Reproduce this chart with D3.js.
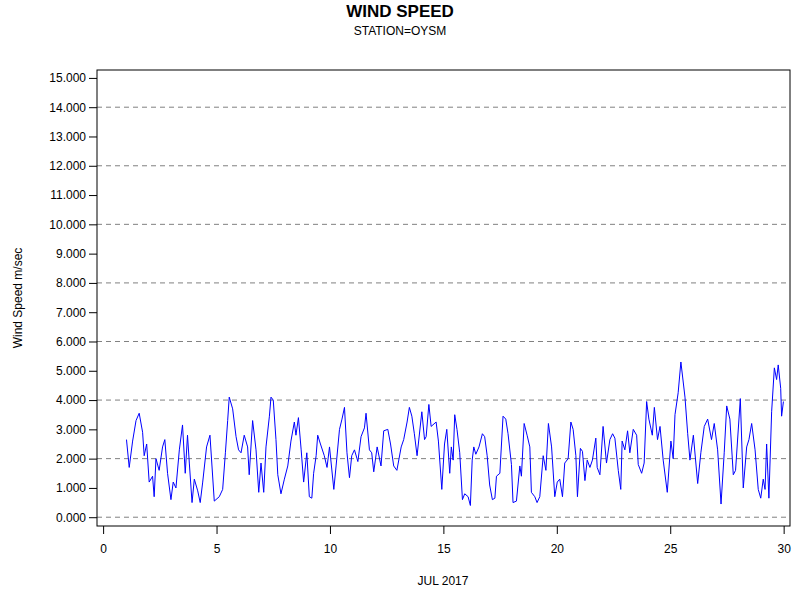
<!DOCTYPE html>
<html>
<head>
<meta charset="utf-8">
<script src="https://cdn.jsdelivr.net/npm/d3@7"></script>
<style>
  body { margin: 0; background: #fff; }
  text { font-family: "Liberation Sans", Arial, sans-serif; }
</style>
</head>
<body>
<script>
const WIDTH = 800;
const HEIGHT = 600;
const PLOT = { left: 97, right: 790, top: 70, bottom: 526 };

// day of July 2017 (fractional) and wind speed in m/sec
const days = [
  1.03, 1.15, 1.30, 1.45, 1.59, 1.74, 1.81, 1.92, 2.03, 2.18, 2.25, 2.33, 2.47, 2.62, 2.72, 2.84,
  2.99, 3.09, 3.21, 3.36, 3.50, 3.62, 3.72, 3.80, 3.92, 4.02, 4.17, 4.28, 4.39, 4.56, 4.71, 4.90,
  5.12, 5.27, 5.39, 5.49, 5.56, 5.71, 5.86, 5.97, 6.08, 6.22, 6.37, 6.44, 6.59, 6.74, 6.86, 6.96,
  7.08, 7.18, 7.33, 7.40, 7.50, 7.62, 7.70, 7.84,
  7.99, 8.14, 8.28, 8.43, 8.50, 8.61, 8.73, 8.84, 8.98, 9.09, 9.20, 9.28, 9.39, 9.46, 9.58, 9.75,
  9.87, 9.98, 10.17, 10.27, 10.42, 10.53, 10.64, 10.75, 10.86, 10.96, 11.08, 11.23, 11.37, 11.52,
  11.59, 11.74, 11.84, 11.93, 12.08, 12.25, 12.37, 12.55, 12.67, 12.81, 12.95, 13.14, 13.25, 13.40,
  13.50, 13.61, 13.72, 13.84, 14.05, 14.17, 14.24, 14.36, 14.46, 14.68, 14.78, 14.93, 15.05, 15.15,
  15.28, 15.35, 15.43, 15.50, 15.60, 15.72, 15.84, 15.94, 16.09, 16.19, 16.27, 16.34, 16.43, 16.57,
  16.72, 16.82, 16.93, 17.04, 17.16, 17.27, 17.34, 17.49, 17.63, 17.75, 17.85, 18.00, 18.07, 18.22,
  18.37, 18.44, 18.56, 18.69, 18.81, 18.88, 19.03, 19.13, 19.25, 19.40, 19.52, 19.63, 19.77, 19.91,
  20.02, 20.13, 20.25, 20.35, 20.50, 20.62, 20.72, 20.84, 20.91, 21.04, 21.13, 21.24, 21.34, 21.46,
  21.57, 21.72, 21.78, 21.90, 22.04, 22.19, 22.34, 22.46,
  22.56, 22.71, 22.82, 22.88, 23.00, 23.12, 23.22, 23.37, 23.52, 23.59, 23.74, 23.85, 23.96, 24.06,
  24.21, 24.30, 24.44, 24.55, 24.69, 24.87, 25.03, 25.13, 25.21, 25.35, 25.47, 25.65, 25.77, 25.87,
  26.02, 26.21, 26.35, 26.50, 26.65, 26.82, 26.94, 27.09, 27.24, 27.38, 27.49, 27.63, 27.78, 27.88,
  28.09, 28.22, 28.37, 28.47, 28.59, 28.74, 28.88, 28.99, 29.10, 29.18, 29.25, 29.35, 29.47, 29.59,
  29.69, 29.76, 29.87, 29.91, 29.99
];
const speeds = [
  2.65, 1.7, 2.6, 3.3, 3.55, 2.9, 2.1, 2.5, 1.2, 1.4, 0.7, 2.0, 1.6, 2.4, 2.65, 1.5,
  0.6, 1.2, 1.0, 2.3, 3.15, 1.5, 2.8, 1.85, 0.5, 1.3, 0.9, 0.5, 1.2, 2.4, 2.8, 0.55,
  0.7, 0.95, 2.2, 3.3, 4.1, 3.7, 2.75, 2.3, 2.2, 2.8, 2.4, 1.45, 3.3, 2.3, 0.85, 1.85,
  0.85, 2.4, 3.45, 4.1, 4.0, 2.65, 1.45, 0.8,
  1.3, 1.75, 2.6, 3.25, 2.8, 3.4, 2.3, 1.2, 2.2, 0.7, 0.65, 1.5, 2.1, 2.8, 2.5, 2.1,
  1.7, 2.4, 0.95, 1.75, 3.0, 3.35, 3.75, 2.2, 1.35, 2.1, 2.3, 1.9, 2.75, 3.05,
  3.55, 2.3, 2.2, 1.55, 2.4, 1.75, 2.95, 3.0, 2.5, 1.75, 1.6, 2.4, 2.65, 3.25,
  3.75, 3.45, 2.85, 2.1, 3.6, 2.65, 2.75, 3.85, 3.1, 3.25, 2.6, 0.95, 2.5, 3.0,
  1.5, 2.4, 1.95, 3.5, 3.0, 2.2, 0.6, 0.8, 0.7, 0.4, 1.95, 2.4, 2.15, 2.4,
  2.85, 2.75, 2.1, 1.1, 0.6, 0.65, 1.4, 1.5, 3.45, 3.35, 2.85, 1.8, 0.5, 0.55,
  1.75, 1.4, 3.2, 2.8, 2.4, 0.85, 0.7, 0.5, 0.7, 2.1, 1.6, 3.2, 2.4, 0.7,
  1.2, 1.3, 0.7, 1.85, 2.0, 3.25, 3.0, 2.1, 0.7, 2.35, 2.25, 1.25, 1.95, 1.7,
  1.95, 2.7, 1.7, 1.45, 3.1, 1.85, 2.65, 2.85,
  2.7, 1.6, 0.95, 2.6, 2.3, 2.95, 2.2, 3.0, 2.8, 1.8, 1.5, 1.85, 3.95, 3.35,
  2.8, 3.75, 2.65, 3.1, 1.95, 0.85, 2.6, 2.0, 3.5, 4.25, 5.3, 4.1, 2.85, 1.95,
  2.8, 1.15, 2.2, 3.1, 3.35, 2.65, 3.2, 2.3, 0.45, 2.2, 3.8, 3.35, 1.45, 1.6,
  4.05, 1.0, 2.4, 2.65, 3.2, 2.3, 0.95, 0.65, 1.3, 0.95, 2.5, 0.65, 3.6, 5.1,
  4.7, 5.2, 4.4, 3.45, 3.95
];
const yTicks = d3.range(0, 15.001, 1);
const gridValues = d3.range(0, 14.001, 2);
const xTicks = [0, 5, 10, 15, 20, 25, 30];

const svg = d3.select("body").append("svg")
  .attr("width", WIDTH)
  .attr("height", HEIGHT);

const x = d3.scaleLinear().domain([-0.27, 30.28]).range([PLOT.left, PLOT.right]);
const y = d3.scaleLinear().domain([-0.3, 15.27]).range([PLOT.bottom, PLOT.top]);

svg.append("text").attr("x", 400).attr("y", 17).attr("text-anchor", "middle")
  .style("font-size", "17px").style("font-weight", "bold").text("WIND SPEED");
svg.append("text").attr("x", 400).attr("y", 35).attr("text-anchor", "middle")
  .style("font-size", "12px").text("STATION=OYSM");

// dashed grid
svg.append("g").selectAll("line").data(gridValues).enter().append("line")
  .attr("x1", PLOT.left).attr("x2", PLOT.right)
  .attr("y1", d => y(d)).attr("y2", d => y(d))
  .attr("stroke", "#808080").attr("stroke-dasharray", "5,4");

// frame
svg.append("rect").attr("x", PLOT.left).attr("y", PLOT.top)
  .attr("width", PLOT.right - PLOT.left).attr("height", PLOT.bottom - PLOT.top)
  .attr("fill", "none").attr("stroke", "#000");

const line = d3.line().x((d, i) => x(days[i])).y(d => y(d));
svg.append("path").datum(speeds).attr("d", line)
  .attr("fill", "none").attr("stroke", "#0000ff").attr("stroke-width", 1);

// y axis
const yAxis = svg.append("g").attr("transform", `translate(${PLOT.left},0)`);
yAxis.call(d3.axisLeft(y).tickValues(d3.range(0, 15.001, 0.25)).tickSize(4).tickFormat(""));
yAxis.call(d3.axisLeft(y).tickValues(yTicks).tickSize(8).tickFormat(d3.format(".3f")));
yAxis.selectAll(".domain").remove();
yAxis.selectAll("text").style("font-size", "12px").style("font-family", "Liberation Sans, Arial, sans-serif").attr("fill", "#000");

// x axis
const xAxis = svg.append("g").attr("transform", `translate(0,${PLOT.bottom})`);
xAxis.call(d3.axisBottom(x).tickValues(d3.range(0, 30.001, 0.5)).tickSize(4).tickFormat(""));
xAxis.call(d3.axisBottom(x).tickValues(xTicks).tickSize(8).tickFormat(d3.format("d")));
xAxis.selectAll(".domain").remove();
xAxis.selectAll("text").attr("dy", "1.3em").style("font-size", "12px").style("font-family", "Liberation Sans, Arial, sans-serif").attr("fill", "#000");

svg.append("text").attr("x", 443).attr("y", 585).attr("text-anchor", "middle")
  .style("font-size", "12px").text("JUL 2017");
svg.append("text").attr("transform", "translate(22,298) rotate(-90)").attr("text-anchor", "middle")
  .style("font-size", "12px").text("Wind Speed m/sec");
</script>
</body>
</html>
